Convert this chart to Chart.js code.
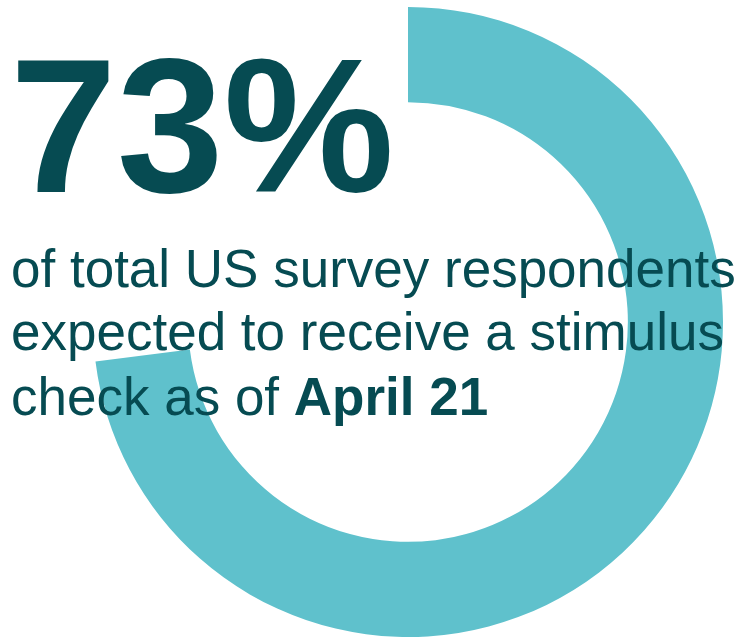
<!DOCTYPE html>
<html>
<head>
<meta charset="utf-8">
<script src="https://cdn.jsdelivr.net/npm/chart.js@4/dist/chart.umd.min.js"></script>
<style>
  html, body { margin: 0; padding: 0; background: #ffffff; }
  #wrap { width: 747px; height: 638px; position: relative; }
</style>
</head>
<body>
<div id="wrap"><canvas id="c" width="747" height="638"></canvas></div>
<script>
// Share of respondents expecting a stimulus check
const categories = ['Expect a check', 'Other'];
const shares = [73, 27];
const captionLines = [
  [{ text: 'of total US survey respondents', bold: false }],
  [{ text: 'expected to receive a stimulus', bold: false }],
  [{ text: 'check as of ', bold: false }, { text: 'April 21', bold: true }]
];

const ink = '#064b52';
const ring = '#5fc1cc';
const family = '"Liberation Sans", Arial, Helvetica, sans-serif';

// Headline figure and caption drawn over the ring
const captionPlugin = {
  id: 'caption',
  afterDraw(chart) {
    const ctx = chart.ctx;
    ctx.save();
    ctx.fillStyle = ink;
    ctx.textBaseline = 'alphabetic';
    ctx.textAlign = 'left';
    ctx.font = 'bold 192px ' + family;
    ctx.fillText(shares[0] + '%', 10, 192);

    const baselines = [287, 350, 415];
    captionLines.forEach((runs, i) => {
      let x = 11;
      runs.forEach(run => {
        ctx.font = (run.bold ? 'bold ' : '') + '53px ' + family;
        ctx.fillText(run.text, x, baselines[i]);
        x += ctx.measureText(run.text).width;
      });
    });
    ctx.restore();
  }
};

new Chart(document.getElementById('c'), {
  type: 'doughnut',
  data: {
    labels: categories,
    datasets: [{
      data: shares,
      backgroundColor: [ring, 'rgba(0,0,0,0)'],
      borderWidth: 0,
      hoverOffset: 0
    }]
  },
  options: {
    responsive: false,
    animation: false,
    cutout: '69.8%',
    rotation: 0,
    layout: { padding: { left: 93, right: 24, top: 7, bottom: 1 } },
    plugins: {
      legend: { display: false },
      tooltip: { enabled: false }
    }
  },
  plugins: [captionPlugin]
});
</script>
</body>
</html>
